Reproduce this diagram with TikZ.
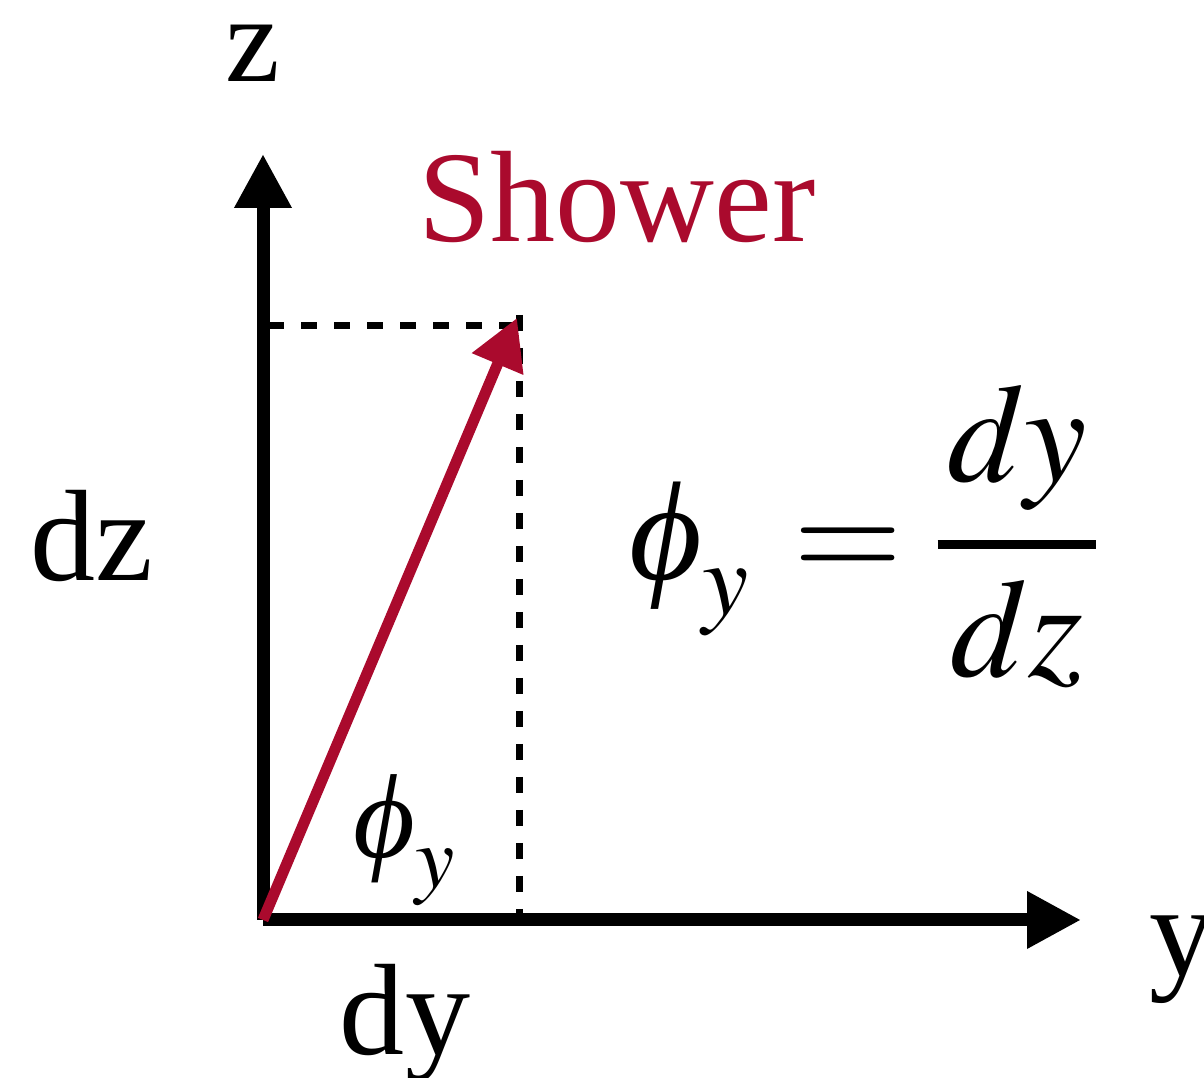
\documentclass[tikz,border=0pt]{standalone}
\usepackage{amsmath}
\usepackage{mathptmx}
\usepackage[no-math]{fontspec}
\setmainfont{Liberation Serif}
\newfontfamily\dejaserif{DejaVu Serif}
\usepackage{tikz}
\usetikzlibrary{arrows.meta}
\definecolor{showerred}{RGB}{170,10,45}
\newcommand{\phiit}{\text{\itshape\iffontchar\font"03D5 \char"03D5\else\dejaserif\itshape\char"03D5\fi}}

\begin{document}
\begin{tikzpicture}[
  lbl/.style={inner sep=0pt, anchor=base, font=\fontsize{37}{44}\selectfont},
  mth/.style={inner sep=0pt, font=\fontsize{40}{48}\selectfont},
  axis/.style={line width=0.13cm, -{Triangle[length=0.54cm, width=0.54cm]}},
  vec/.style={line width=0.11cm, showerred, -{Triangle[length=0.5cm, width=0.53cm]}},
  guide/.style={line width=0.07cm, dash pattern=on 0.16cm off 0.17cm}]
\useasboundingbox (0,0) rectangle (12.04,10.78);

\coordinate (O) at (2.63,1.58);
\coordinate (ztip) at (2.63,9.24);
\coordinate (ytip) at (10.81,1.58);
\coordinate (stip) at (5.17,7.60);
\coordinate (hz) at (2.68,7.52);
\coordinate (hP) at (5.19,7.52);
\coordinate (vtop) at (5.19,7.63);
\coordinate (vbot) at (5.19,1.48);

\node[lbl, font=\fontsize{35}{42}\selectfont] (zlab) at (2.53,9.96) {z};
\node[lbl] (ylab) at (11.82,1.02) {y};
\node[lbl] (dzlab) at (0.92,4.97) {dz};
\node[lbl] (dylab) at (4.05,0.23) {dy};
\node[lbl, text=showerred] (shower) at (6.17,8.36) {Shower};
\node[mth, font=\fontsize{34}{40}\selectfont] (angle) at (4.05,2.38) {$\phiit_y$};
\node[mth] (eq) at (8.65,5.42) {$\displaystyle \phiit_y\mkern1.5mu=\genfrac{}{}{2.8pt}{0}{\mkern1.2mu dy\mkern1.2mu}{dz}$};

\draw[guide] (hz) -- (hP);
\draw[guide] (vtop) -- (vbot);
\draw[axis] (O) -- (ztip);
\draw[axis] (O) -- (ytip);
\draw[vec] (O) -- (stip);
\end{tikzpicture}
\end{document}
